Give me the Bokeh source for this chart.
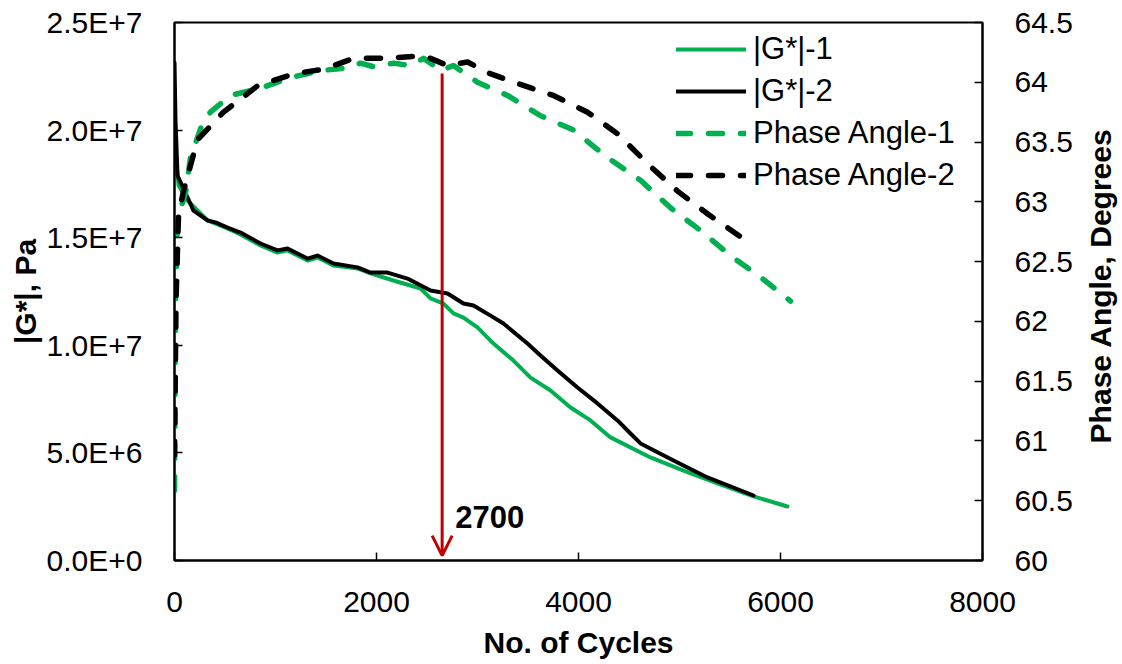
import math
from bokeh.plotting import figure
from bokeh.layouts import row
from bokeh.models import (Range1d, LinearAxis, FixedTicker, Legend, LegendItem,
                          Arrow, OpenHead, Label)
from bokeh.core.properties import value
from bokeh.embed import file_html
from bokeh.resources import INLINE

# ---------------- data ----------------
g1_x = [0, 40, 129, 327, 525, 653, 851, 1020, 1119, 1317, 1416, 1574, 1812, 1941,
        2168, 2436, 2535, 2663, 2762, 2861, 3000, 3158, 3356, 3525, 3723, 3921,
        4119, 4317, 4713, 5040, 5376, 5733, 6069]
g1_y = [1.95e7, 1.743e7, 1.673e7, 1.58e7, 1.543e7, 1.515e7, 1.464e7, 1.431e7,
        1.441e7, 1.394e7, 1.408e7, 1.371e7, 1.357e7, 1.334e7, 1.301e7, 1.264e7,
        1.218e7, 1.194e7, 1.148e7, 1.129e7, 1.083e7, 1.008e7, 9.29e6, 8.50e6,
        7.90e6, 7.11e6, 6.51e6, 5.72e6, 4.79e6, 4.18e6, 3.58e6, 2.98e6, 2.51e6]

g2_x = [0, 10, 30, 129, 188, 327, 406, 525, 653, 851, 1020, 1119, 1317, 1416,
        1574, 1812, 1941, 2109, 2307, 2535, 2703, 2861, 2960, 3129, 3257, 3495,
        3624, 3792, 3990, 4188, 4386, 4515, 4614, 4941, 5277, 5733]
g2_y = [2.314e7, 2.045e7, 1.789e7, 1.687e7, 1.626e7, 1.58e7, 1.571e7, 1.547e7,
        1.524e7, 1.473e7, 1.441e7, 1.45e7, 1.403e7, 1.417e7, 1.38e7, 1.362e7,
        1.338e7, 1.338e7, 1.31e7, 1.255e7, 1.241e7, 1.194e7, 1.185e7, 1.138e7,
        1.101e7, 1.008e7, 9.53e6, 8.83e6, 8.04e6, 7.30e6, 6.51e6, 5.90e6,
        5.44e6, 4.65e6, 3.86e6, 3.02e6]

pa1_x = [0, 10, 30, 109, 158, 287, 356, 554, 851, 1148, 1475, 1713, 1842, 1970,
         2168, 2337, 2465, 2634, 2762, 3000, 3297, 3624, 3951, 4287, 4614, 4911,
         5208, 5505, 5802, 6099]
pa1_y = [60.585, 62.175, 62.869, 63.07, 63.37, 63.68, 63.75, 63.89, 63.95, 64.04,
         64.10, 64.12, 64.16, 64.13, 64.16, 64.14, 64.20, 64.10, 64.14, 64.0,
         63.89, 63.72, 63.60, 63.37, 63.18, 62.95, 62.76, 62.55, 62.37, 62.17]

pa2_x = [0, 15, 40, 89, 228, 485, 822, 1178, 1475, 1772, 2069, 2436,
         2535, 2703, 2901, 3099, 3396, 3752, 4089, 4386, 4683, 4980, 5277, 5653]
pa2_y = [60.88, 62.17, 62.89, 63.09, 63.52, 63.75, 63.97, 64.07,
         64.11, 64.20, 64.20, 64.22, 64.20, 64.14, 64.17, 64.08, 63.99, 63.89,
         63.75, 63.57, 63.32, 63.09, 62.90, 62.68]

x_ticks = [0, 2000, 4000, 6000, 8000]
g_ticks = [0, 5e6, 1e7, 1.5e7, 2e7, 2.5e7]
g_tick_labels = ["0.0E+0", "5.0E+6", "1.0E+7", "1.5E+7", "2.0E+7", "2.5E+7"]
pa_ticks = [60, 60.5, 61, 61.5, 62, 62.5, 63, 63.5, 64, 64.5]
pa_tick_labels = ["60", "60.5", "61", "61.5", "62", "62.5", "63", "63.5", "64", "64.5"]

series_names = ["|G*|-1", "|G*|-2", "Phase Angle-1", "Phase Angle-2"]
right_title = "Phase Angle, Degrees"
arrow_x = 2650
arrow_top = 2.263e7
arrow_bottom = 2.3e5
arrow_label = "2700"
arrow_label_y = 2.04e6

GREEN = "#00B050"
RED = "#C00000"
FONT = "Liberation Sans"

p = figure(width=1082, height=664, output_backend="svg", toolbar_location=None,
           x_range=Range1d(0, 8000), y_range=Range1d(0, 2.5e7),
           min_border_left=174, min_border_right=100, min_border_top=22,
           min_border_bottom=104)
p.extra_y_ranges = {"pa": Range1d(60, 64.5)}
p.xgrid.visible = False
p.ygrid.visible = False
p.outline_line_color = "black"
p.outline_line_width = 2
p.background_fill_color = "white"
p.border_fill_color = "white"

r1 = p.line(g1_x, g1_y, line_color=GREEN, line_width=4, line_join="round", line_cap="round")
r2 = p.line(g2_x, g2_y, line_color="black", line_width=4, line_join="round", line_cap="round")
r3 = p.line(pa1_x, pa1_y, y_range_name="pa", line_color=GREEN, line_width=5.5,
            line_dash="14 18", line_cap="round", line_join="round")
r4 = p.line(pa2_x, pa2_y, y_range_name="pa", line_color="black", line_width=5.5,
            line_dash="14 18", line_cap="round", line_join="round")

p.add_layout(Arrow(end=OpenHead(line_color=RED, line_width=3, size=20),
                   x_start=arrow_x, y_start=arrow_top, x_end=arrow_x, y_end=arrow_bottom,
                   line_color=RED, line_width=3))
p.add_layout(Label(x=arrow_x + 130, y=arrow_label_y, text=arrow_label, text_font=FONT,
                   text_font_size="31px", text_font_style="bold", text_color="black",
                   text_baseline="middle", text_align="left"))

def style_axis(ax):
    ax.axis_line_width = 2
    ax.axis_line_color = "black"
    ax.major_tick_in = 8
    ax.major_tick_out = 0
    ax.major_tick_line_width = 1.5
    ax.minor_tick_in = 0
    ax.minor_tick_out = 0
    ax.major_label_text_font = FONT
    ax.major_label_text_font_size = "30px"
    ax.major_label_text_color = "black"
    ax.axis_label_text_font = FONT
    ax.axis_label_text_font_size = "30px"
    ax.axis_label_text_font_style = "bold"
    ax.axis_label_text_color = "black"

xa = p.xaxis[0]
style_axis(xa)
xa.ticker = FixedTicker(ticks=x_ticks)
xa.axis_label = "No. of Cycles"
xa.major_label_standoff = 31
xa.axis_label_standoff = 11

ya = p.yaxis[0]
style_axis(ya)
ya.ticker = FixedTicker(ticks=g_ticks)
ya.major_label_overrides = {t: s for t, s in zip(g_ticks, g_tick_labels)}
ya.axis_label = "|G*|, Pa"
ya.major_label_standoff = 32
ya.axis_label_standoff = 2

ra = LinearAxis(y_range_name="pa")
style_axis(ra)
ra.ticker = FixedTicker(ticks=pa_ticks)
ra.major_label_overrides = {t: s for t, s in zip(pa_ticks, pa_tick_labels)}
ra.major_label_standoff = 32
p.add_layout(ra, "right")

legend = Legend(items=[LegendItem(label=n, renderers=[r]) for n, r in
                       zip(series_names, [r1, r2, r3, r4])],
                location=(502, 367), border_line_color=None,
                background_fill_alpha=0, label_text_font=FONT,
                label_text_font_size="31px", label_text_color="black",
                glyph_width=70, glyph_height=36,
                label_height=36, spacing=6, label_standoff=7, padding=4, margin=0)
p.add_layout(legend)

# narrow strip on the right carrying the right-axis title (reads bottom-to-top)
p2 = figure(width=40, height=664, output_backend="svg", toolbar_location=None,
            x_range=Range1d(0, 40), y_range=Range1d(0, 664),
            x_axis_location=None, y_axis_location=None, min_border=0)
p2.xgrid.visible = False
p2.ygrid.visible = False
p2.outline_line_color = None
p2.background_fill_color = "white"
p2.border_fill_color = "white"
p2.text(x=[18], y=[339], text=[right_title], angle=math.pi / 2,
        text_font=value(FONT), text_font_size=value("30px"),
        text_font_style="bold", text_color="black",
        text_align="center", text_baseline="middle")

open("out.html", "w").write(file_html(row(p, p2, spacing=0), INLINE))
